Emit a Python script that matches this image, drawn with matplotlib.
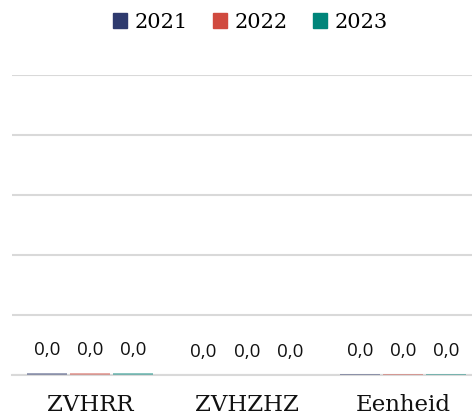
import numpy as np
import matplotlib.pyplot as plt

categories = ['ZVHRR', 'ZVHZHZ', 'Eenheid']
years = ['2021', '2022', '2023']
values_2021 = [0.008, 0.0, 0.003]
values_2022 = [0.008, 0.0, 0.003]
values_2023 = [0.008, 0.0, 0.003]
colors = ['#2e3a6e', '#d04a3f', '#00857a']

series = [values_2021, values_2022, values_2023]

fig = plt.figure(figsize=(4.72, 4.17), dpi=100)
ax = fig.add_axes([12 / 472, 1 - 375 / 417, 460 / 472, 300 / 417])

x = np.arange(len(categories))
width = 0.255
step = 0.275

for i, (vals, year, col) in enumerate(zip(series, years, colors)):
    bars = ax.bar(x + (i - 1) * step, vals, width, color=col, alpha=0.45,
                  label=year, zorder=3)
    ax.bar_label(bars, labels=[f'{v:.1f}'.replace('.', ',') for v in vals],
                 padding=10, fontsize=13.5, family='Open Sans', color='#111111')

ax.set_xlim(-0.5, 2.44)
ax.set_ylim(0, 1.0)
ax.set_yticks(np.arange(0, 1.01, 0.2))
ax.yaxis.grid(True, color='#d9d9d9', linewidth=1.5, zorder=0)
ax.tick_params(axis='y', left=False, labelleft=False)
ax.tick_params(axis='x', bottom=False, pad=10.5)
ax.set_xticks(x)
ax.set_xticklabels(categories, family='DejaVu Serif', fontsize=16.5, color='#111111')
for s in ['top', 'right', 'left']:
    ax.spines[s].set_visible(False)
ax.spines['bottom'].set_color('#d9d9d9')
ax.spines['bottom'].set_linewidth(1.5)

handles = [plt.Rectangle((0, 0), 1, 1, color=c) for c in colors]
fig.legend(handles, years, loc='center', bbox_to_anchor=(0.53, 1 - 22 / 417),
           ncol=3, frameon=False, handlelength=0.7, handleheight=0.7,
           handletextpad=0.35, columnspacing=1.2,
           prop={'family': 'DejaVu Serif', 'size': 15})

fig.savefig('out.png', dpi=100)
